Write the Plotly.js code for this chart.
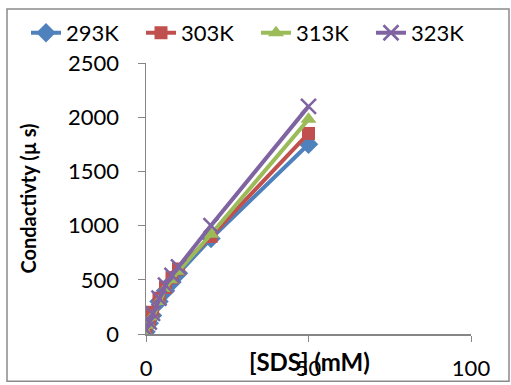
<!DOCTYPE html>
<html><head><meta charset="utf-8">
<script src="https://cdn.plot.ly/plotly-3.0.1.min.js"></script>
<style>html,body{margin:0;padding:0;background:#fff}#c{width:511px;height:385px}</style>
</head><body><div id="c"></div>
<script>
const concentration = [0, 1, 2, 4, 6, 8, 10, 20, 50];
const seriesNames = ["293K", "303K", "313K", "323K"];
const k293 = [20, 100, 170, 300, 400, 480, 560, 880, 1750];
const k303 = [30, 120, 200, 330, 430, 520, 600, 900, 1850];
const k313 = [10, 80, 160, 300, 420, 500, 580, 920, 1980];
const k323 = [40, 110, 190, 330, 450, 540, 620, 1000, 2100];
const xTicks = [0, 50, 100];
const yTicks = [0, 500, 1000, 1500, 2000, 2500];

const colors = ["#4F81BD", "#C0504D", "#9BBB59", "#8064A2"];
const symbols = ["diamond", "square", "triangle-up", "x-thin-open"];
const sizes = [15, 13, 14, 15];
const ys = [k293, k303, k313, k323];

const traces = ys.map((y, i) => ({
  x: concentration, y: y, name: seriesNames[i], type: "scatter", mode: "lines+markers",
  line: {color: colors[i], width: 4},
  marker: {symbol: symbols[i], size: sizes[i], color: colors[i], line: {color: colors[i], width: i === 3 ? 2.5 : 0}}
}));

const W = 511, H = 385, L = 146, R = 40, T = 58, B = 51;
const pw = W - L - R, ph = H - T - B;
const layout = {
  width: W, height: H,
  margin: {l: L, r: R, t: T, b: B, pad: 0},
  paper_bgcolor: "#fff", plot_bgcolor: "#fff",
  font: {family: "Lato, 'Open Sans', sans-serif", size: 22, color: "#000"},
  showlegend: true,
  legend: {orientation: "h", x: (26 - L) / pw, y: 1 + (T - 6) / ph, xanchor: "left", yanchor: "top",
           font: {size: 22}, bgcolor: "rgba(0,0,0,0)", tracegroupgap: 0, itemwidth: 30,
           entrywidth: 70, entrywidthmode: "pixels"},
  xaxis: {range: [0, 100], tickvals: xTicks, ticktext: xTicks.map(String), showgrid: false, zeroline: false,
          showline: true, linecolor: "#868686", linewidth: 1.5, ticks: "outside", ticklen: 6, tickcolor: "#868686",
          ticklabelstandoff: 8},
  yaxis: {range: [0, 2500], tickvals: yTicks, ticktext: yTicks.map(String), showgrid: false, zeroline: false,
          showline: true, linecolor: "#868686", linewidth: 1.5, ticks: "outside", ticklen: 7, tickcolor: "#868686",
          ticklabelstandoff: 14,
          title: {text: "<b>Condactivty (µ s)</b>", font: {size: 20}, standoff: 26}},
  annotations: [{text: "<b>[SDS] (mM)</b>", xref: "paper", yref: "paper", x: (309 - L) / pw, y: (T + ph - 362) / ph,
                 xanchor: "center", yanchor: "middle", showarrow: false, font: {size: 24}}],
  shapes: [{type: "rect", xref: "paper", yref: "paper",
            x0: (7 - L) / pw, x1: (509 - L) / pw, y0: (T + ph - 382) / ph, y1: (T + ph - 3) / ph,
            line: {color: "#8a8a8a", width: 1.5}, fillcolor: "rgba(0,0,0,0)"}]
};
Plotly.newPlot("c", traces, layout, {staticPlot: true});
</script></body></html>
